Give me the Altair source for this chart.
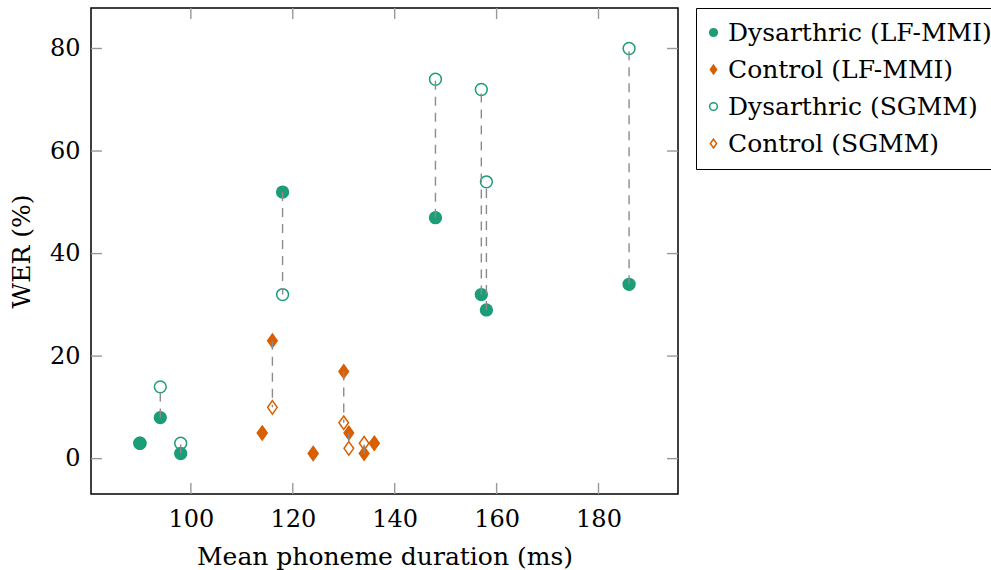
import altair as alt
import pandas as pd

# ---- data ----
dys_x = [90, 94, 98, 118, 148, 157, 158, 186]
dys_lfmmi = [3, 8, 1, 52, 47, 32, 29, 34]
dys_sgmm = [3, 14, 3, 32, 74, 72, 54, 80]

ctl_x = [114, 116, 124, 130, 131, 134, 136]
ctl_lfmmi = [5, 23, 1, 17, 5, 1, 3]
ctl_sgmm = [5, 10, 1, 7, 2, 3, 3]

series_names = ["Dysarthric (LF-MMI)", "Control (LF-MMI)", "Dysarthric (SGMM)", "Control (SGMM)"]
x_ticks = [100, 120, 140, 160, 180]
y_ticks = [0, 20, 40, 60, 80]

GREEN = "#1b9e77"
ORANGE = "#d95f02"
FONT = "DejaVu Serif"
DIAMOND = "M0,-1.14L0.81,0L0,1.14L-0.81,0Z"

rows = []
for x, y in zip(dys_x, dys_lfmmi):
    rows.append({"series": series_names[0], "x": x, "y": y})
for x, y in zip(ctl_x, ctl_lfmmi):
    rows.append({"series": series_names[1], "x": x, "y": y})
for x, y in zip(dys_x, dys_sgmm):
    rows.append({"series": series_names[2], "x": x, "y": y})
for x, y in zip(ctl_x, ctl_sgmm):
    rows.append({"series": series_names[3], "x": x, "y": y})
points = pd.DataFrame(rows)

pairs = pd.DataFrame(
    {"x": dys_x + ctl_x, "y1": dys_lfmmi + ctl_lfmmi, "y2": dys_sgmm + ctl_sgmm}
)

W, H = 587, 486
xscale = alt.Scale(domain=[80.4, 195.6], nice=False, zero=False)
yscale = alt.Scale(domain=[-6.9, 87.9], nice=False, zero=False)

xaxis = alt.Axis(title="Mean phoneme duration (ms)", values=x_ticks, ticks=False, tickSize=0,
                 domain=False, grid=False, labelPadding=13, titlePadding=13)
yaxis = alt.Axis(title="WER (%)", values=y_ticks, ticks=False, tickSize=0,
                 domain=False, grid=False, labelPadding=11, titlePadding=15)

pts = alt.Chart(points).mark_point(opacity=1, strokeWidth=1.5, size=140).encode(
    x=alt.X("x:Q", scale=xscale, axis=xaxis),
    y=alt.Y("y:Q", scale=yscale, axis=yaxis),
    stroke=alt.Stroke("series:N",
                      scale=alt.Scale(domain=series_names, range=[GREEN, ORANGE, GREEN, ORANGE])),
    fill=alt.Fill("series:N",
                  scale=alt.Scale(domain=series_names, range=[GREEN, ORANGE, "transparent", "transparent"])),
    shape=alt.Shape("series:N",
                    scale=alt.Scale(domain=series_names, range=["circle", DIAMOND, "circle", DIAMOND])),
)

lines = alt.Chart(pairs).mark_rule(color="#8c8c8c", strokeWidth=1.4, strokeDash=[9, 7]).encode(
    x=alt.X("x:Q", scale=xscale),
    y=alt.Y("y1:Q", scale=yscale),
    y2="y2:Q",
)

xt = pd.DataFrame({"v": x_ticks})
yt = pd.DataFrame({"v": y_ticks})
TL = 11
tick_style = dict(color="#999999", strokeWidth=1.4)
xb = alt.Chart(xt).mark_rule(**tick_style).encode(
    x=alt.X("v:Q", scale=xscale), y=alt.value(H), y2=alt.value(H - TL))
xtp = alt.Chart(xt).mark_rule(**tick_style).encode(
    x=alt.X("v:Q", scale=xscale), y=alt.value(0), y2=alt.value(TL))
yl = alt.Chart(yt).mark_rule(**tick_style).encode(
    y=alt.Y("v:Q", scale=yscale), x=alt.value(0), x2=alt.value(TL))
yr = alt.Chart(yt).mark_rule(**tick_style).encode(
    y=alt.Y("v:Q", scale=yscale), x=alt.value(W), x2=alt.value(W - TL))

chart = alt.layer(pts, lines, xb, xtp, yl, yr).properties(
    width=W, height=H,
    autosize=alt.AutoSizeParams(type="none"),
    padding={"left": 91, "top": 8, "right": 313, "bottom": 76},
).configure_view(
    stroke="black", strokeWidth=1.5
).configure_axis(
    labelFont=FONT, titleFont=FONT, labelFontSize=24, titleFontSize=25,
    labelColor="black", titleColor="black", titleFontWeight="normal",
).configure_legend(
    title=None, orient="right", offset=18,
    labelFont=FONT, labelFontSize=25, labelColor="black",
    strokeColor="black", fillColor="white", padding=12,
    rowPadding=11, symbolSize=60, symbolStrokeWidth=1.5, labelOffset=2,
    symbolOffset=-7, labelLimit=400,
)

chart.save("out.html", embed_options={"renderer": "svg", "actions": False})
